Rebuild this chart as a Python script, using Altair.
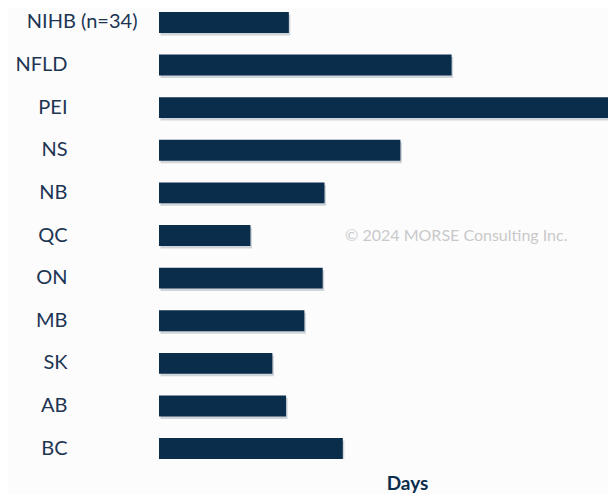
import altair as alt
import pandas as pd

categories = ["NIHB (n=34)", "NFLD", "PEI", "NS", "NB", "QC", "ON", "MB", "SK", "AB", "BC"]
days = [14.2, 32.0, 52.0, 26.4, 18.1, 10.0, 17.9, 15.9, 12.4, 13.9, 20.1]

watermark_text = ["© 2024 MORSE Consulting Inc."]
watermark_x = [20.35]
watermark_y = ["QC"]

df = pd.DataFrame({"prov": categories, "days": days})
wm = pd.DataFrame({"t": watermark_text, "x": watermark_x, "y": watermark_y})

NAVY = "#0b2d4c"
LABEL = "#1c3553"

xscale = alt.Scale(domain=[0, 49.1], nice=False, zero=True)
yscale = alt.Scale(domain=categories, paddingInner=0.51, paddingOuter=0)

y_axis = alt.Axis(
    title=None,
    ticks=False,
    domain=False,
    labelFont="Lato",
    labelFontSize=20,
    labelColor=LABEL,
    labelLimit=0,
    labelPadding={"condition": {"test": "datum.value == 'NIHB (n=34)'", "value": 22}, "value": 92},
)
x_axis = alt.Axis(
    title="Days",
    labels=False,
    ticks=False,
    domain=False,
    grid=False,
    titleFont="Lato",
    titleFontSize=19,
    titleFontWeight="bold",
    titleColor=NAVY,
    titlePadding=15,
    titleX=248,
    titleAlign="center",
)

shadow = alt.Chart(df).mark_bar(color="#7f8b98", opacity=0.35, xOffset=1.5, yOffset=2.5, clip=True).encode(
    x=alt.X("days:Q", scale=xscale, axis=x_axis),
    y=alt.Y("prov:N", scale=yscale, sort=categories, axis=y_axis),
)

bars = alt.Chart(df).mark_bar(color=NAVY, clip=True).encode(
    x=alt.X("days:Q", scale=xscale),
    y=alt.Y("prov:N", scale=yscale, sort=categories),
)

text = alt.Chart(wm).mark_text(
    align="left", baseline="middle", font="Lato", fontSize=16, color="#c9c9c9"
).encode(
    x=alt.X("x:Q", scale=xscale),
    y=alt.Y("y:N", scale=yscale, sort=categories),
    text="t:N",
)

chart = alt.layer(shadow, bars, text).properties(
    width=449,
    height=447,
    autosize=alt.AutoSizeParams(type="none"),
    padding={"left": 151, "top": 4, "right": 0, "bottom": 35},
    background="#fcfcfd",
).configure_view(stroke=None)

chart.save("out.html", embed_options={"renderer": "svg", "actions": False})
